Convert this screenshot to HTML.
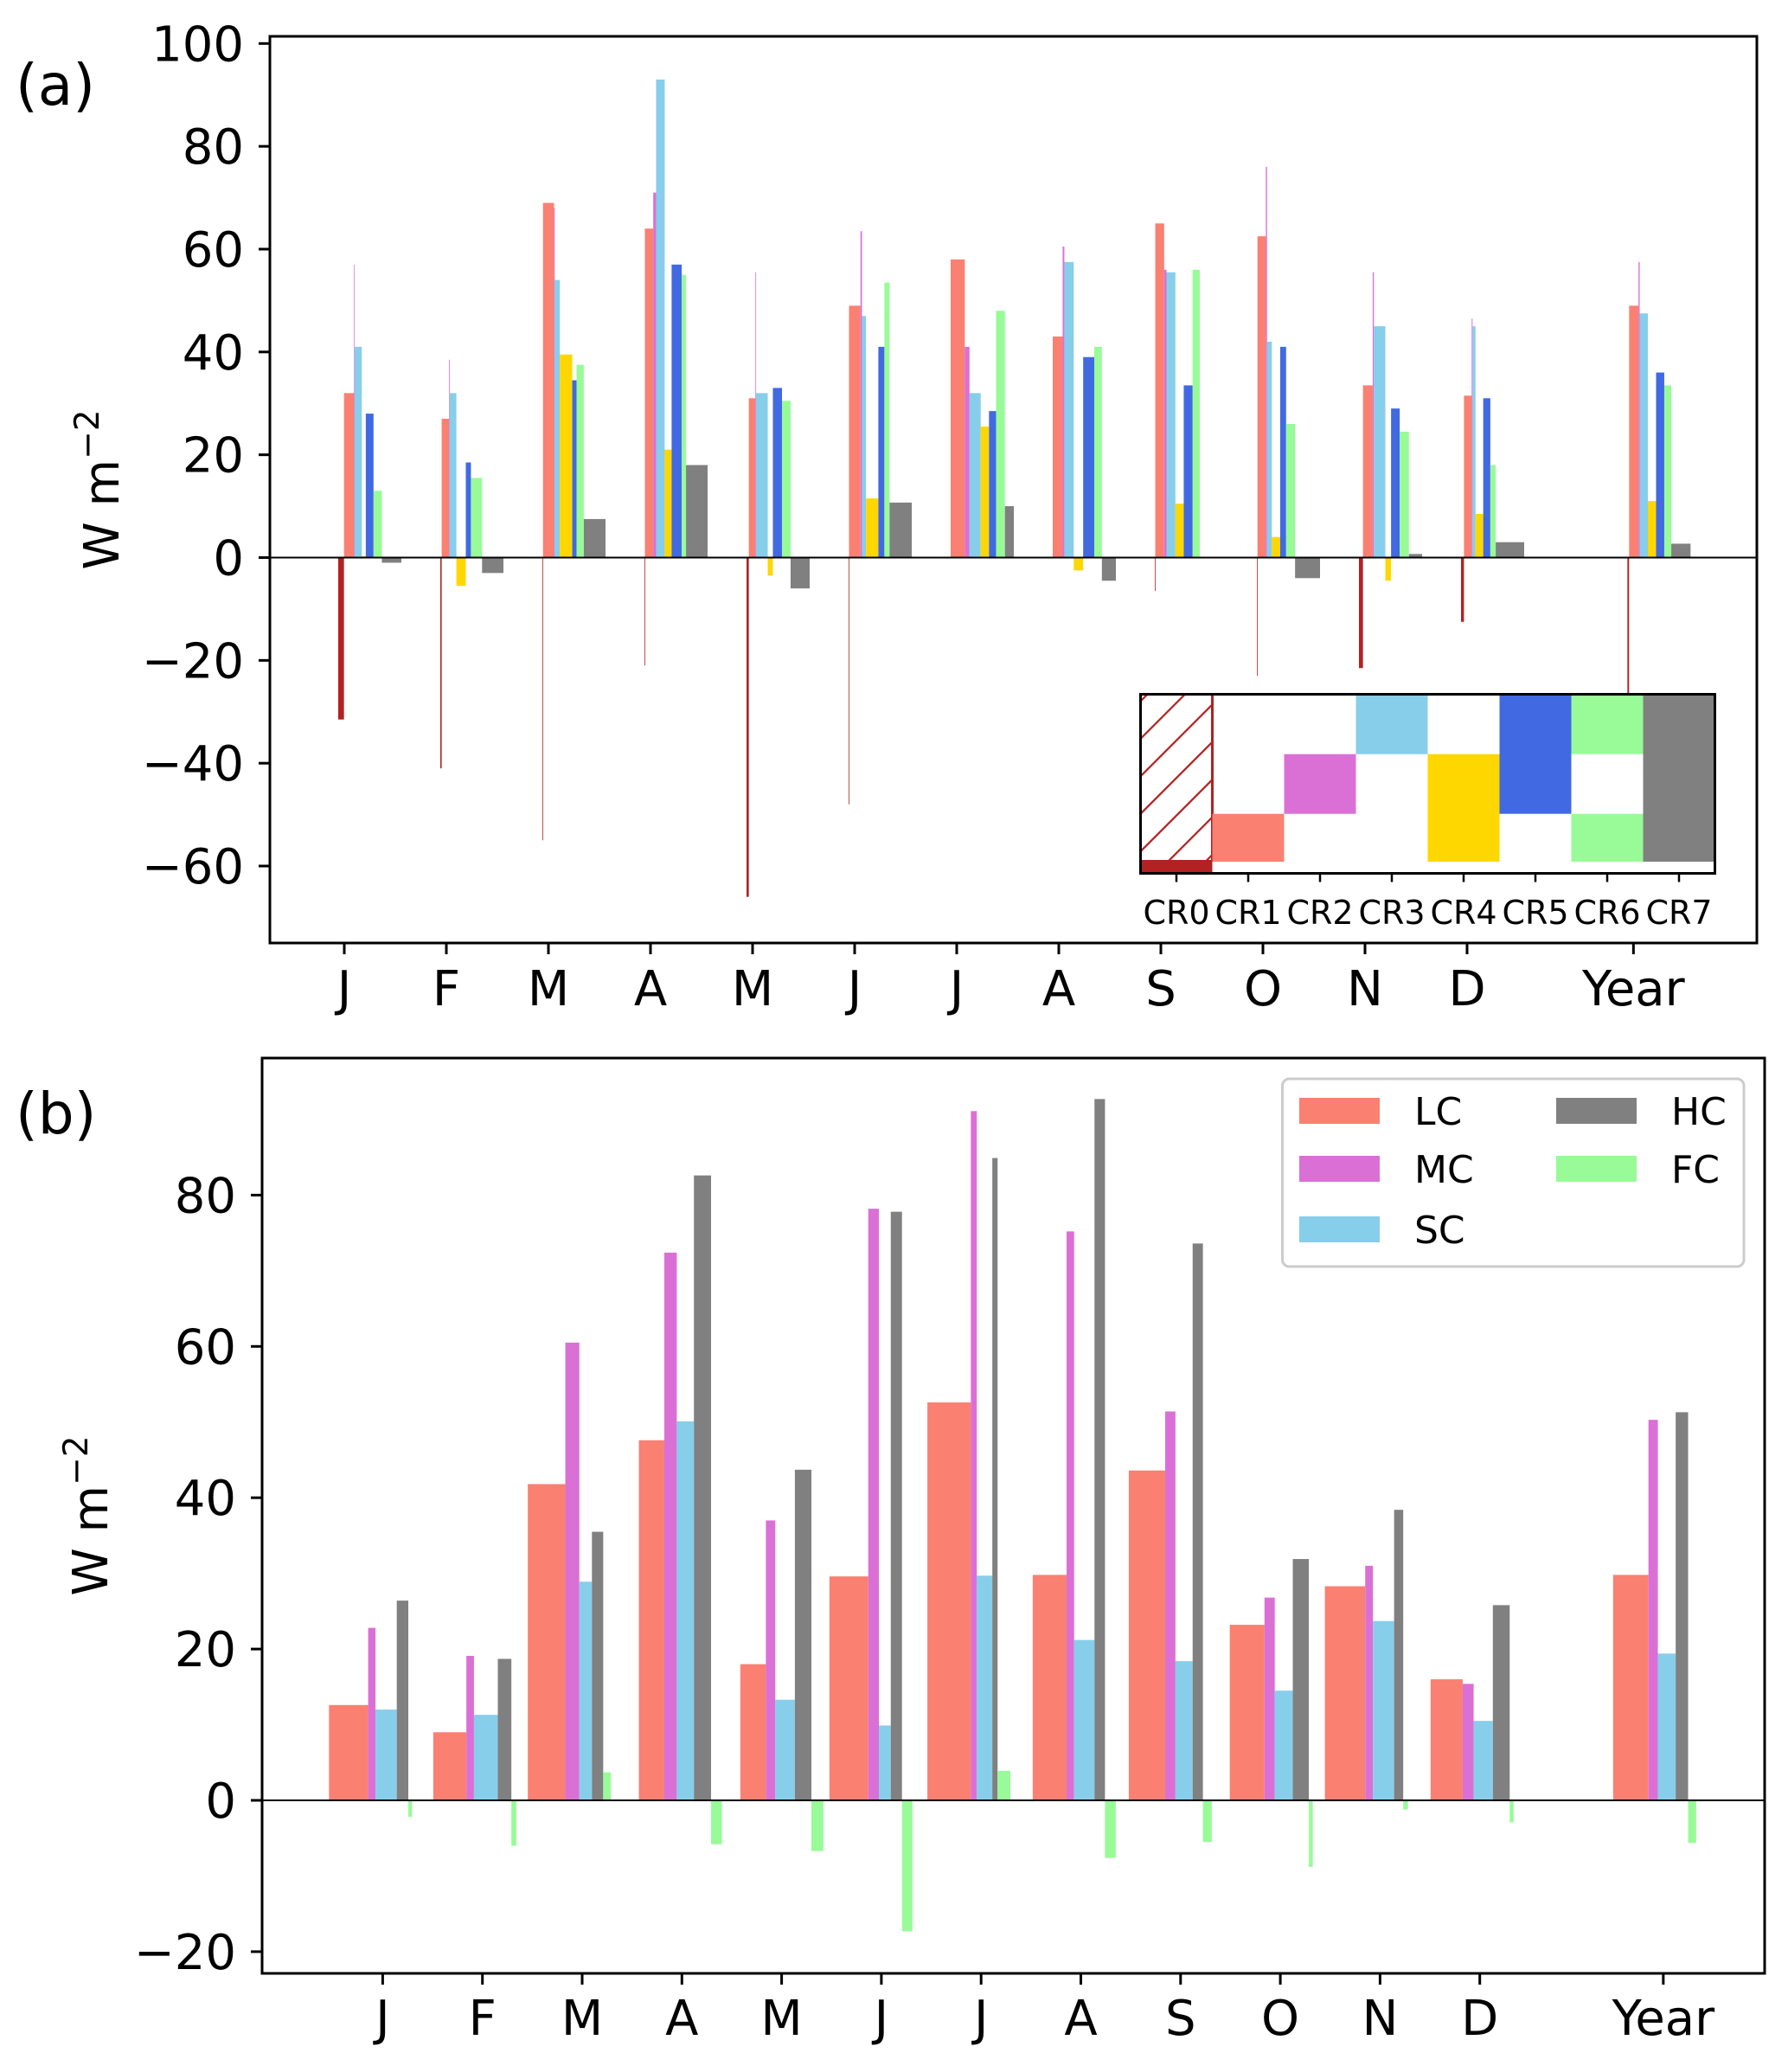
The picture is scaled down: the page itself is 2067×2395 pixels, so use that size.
<!DOCTYPE html>
<html><head><meta charset="utf-8"><style>
html,body{margin:0;padding:0;background:#fff;}
svg{display:block;font-family:"DejaVu Sans","Liberation Sans",sans-serif;}
</style></head><body>
<svg id="chart" width="2067" height="2395" viewBox="0 0 2067 2395" xmlns="http://www.w3.org/2000/svg">
<defs>
<pattern id="hatch" patternUnits="userSpaceOnUse" width="30.7" height="30.7" patternTransform="rotate(45)">
<line x1="0" y1="0" x2="0" y2="30.7" stroke="#b22222" stroke-width="4.5"/>
</pattern>
</defs>
<g id="panelA"></g>
<g id="panelB"></g>
</svg>
<script>
// ---- Panel (a) data ----
const monthsA = ['J','F','M','A','M','J','J','A','S','O','N','D','Year'];
const catPosA = [0,1,2,3,4,5,6,7,8,9,10,11,12.63];
const crNames = ['CR0','CR1','CR2','CR3','CR4','CR5','CR6','CR7'];
const crColors = ['#b22222','#fa8072','#da70d6','#87ceeb','#ffd700','#4169e1','#98fb98','#808080'];
const cr0Vals = [-31.5,-41,-55,-21,-66,-48,0,0,-6.5,-23,-21.5,-12.5,-27];
const cr1Vals = [32,27,69,64,31,49,58,43,65,62.5,33.5,31.5,49];
const cr2Vals = [57,38.5,68,71,55.5,63.5,41,60.5,56,76,55.5,46.5,57.5];
const cr3Vals = [41,32,54,93,32,47,32,57.5,55.5,42,45,45,47.5];
const cr4Vals = [0.3,-5.5,39.5,21,-3.5,11.5,25.5,-2.5,10.5,4,-4.5,8.5,11];
const cr5Vals = [28,18.5,34.5,57,33,41,28.5,39,33.5,41,29,31,36];
const cr6Vals = [13,15.5,37.5,55,30.5,53.5,48,41,56,26,24.5,18,33.5];
const cr7Vals = [-1,-3,7.5,18,-6,10.7,10,-4.5,0,-4,0.7,3,2.7];
const cr0Freq = [6.7,1.6,0.7,0.5,2.7,0.5,0,0,0.5,0.7,4.8,3.4,2];
const cr1Freq = [11.7,8.7,12.7,9.7,7.7,13.3,16.4,11.6,10.3,9.6,11.6,8.9,11];
const cr2Freq = [0.7,0.5,0.7,3.3,0.7,1.7,5.5,2,2.7,1.4,1.4,1,1.4];
const cr3Freq = [8.3,8,6,10,13.7,4.7,13,11,10.3,5.5,13.7,3.4,9.6];
const cr4Freq = [4.7,11,14.3,8,6,14.3,9.6,11,9.6,9.6,6.8,8.9,9.6];
const cr5Freq = [9,6,5,11.7,10.7,7,8.2,13,10.3,6.8,10.3,8.2,9.6];
const cr6Freq = [9.7,13,8.3,5,10,6,10.3,8.9,8.2,10.3,11,6.2,8.2];
const cr7Freq = [22.7,25,25,25,22.3,25.7,10.3,16.4,21,28.7,15.7,32.8,22.6];
const yTicksA = [100,80,60,40,20,0,-20,-40,-60];
const yTickLabelsA = ['100','80','60','40','20','0','\u221220','\u221240','\u221260'];

// ---- Panel (b) data ----
const monthsB = ['J','F','M','A','M','J','J','A','S','O','N','D','Year'];
const catPosB = [0,1,2,3,4,5,6,7,8,9,10,11,12.84];
const seriesB = ['LC','MC','SC','HC','FC'];
const colorsB = ['#fa8072','#da70d6','#87ceeb','#808080','#98fb98'];
const lcVals = [12.6,9.0,41.8,47.6,18,29.6,52.6,29.8,43.6,23.2,28.3,16,29.8];
const mcVals = [22.8,19.1,60.5,72.4,37,78.2,91.1,75.2,51.4,26.8,31,15.4,50.3];
const scVals = [12,11.3,28.9,50.1,13.3,9.9,29.7,21.2,18.4,14.5,23.7,10.5,19.4];
const hcVals = [26.4,18.7,35.5,82.6,43.7,77.8,84.9,92.7,73.6,31.9,38.4,25.8,51.3];
const fcVals = [-2.2,-6,3.7,-5.8,-6.7,-17.3,3.9,-7.6,-5.5,-8.8,-1.2,-2.9,-5.6];
const lcFreq = [45.1,38.3,43.2,29.5,29.5,45.1,50.5,39.4,42.1,40.2,46.5,37.6,40.7];
const mcFreq = [8.5,8.8,16.1,14.5,10.9,12.3,6.9,8.8,11.9,11.9,8.9,12.8,10.8];
const scFreq = [24.5,27.6,14.5,19.9,22.6,13.8,18,23.7,19.9,20.9,24.4,22.5,20.5];
const hcFreq = [13.3,15.7,13,19.9,19.1,13,6.1,12.2,11.9,18.6,10.5,19.7,14.3];
const fcFreq = [4.3,5.7,8.8,12.6,13.8,12.2,14.9,12.6,10.3,4.6,5.4,4.6,9.3];
const yTicksB = [80,60,40,20,0,-20];
const yTickLabelsB = ['80','60','40','20','0','\u221220'];

const NS = 'http://www.w3.org/2000/svg';
function mk(parent, tag, attrs, text){
  const e = document.createElementNS(NS, tag);
  for (const k in attrs) e.setAttribute(k, attrs[k]);
  if (text !== undefined) e.textContent = text;
  parent.appendChild(e);
  return e;
}

// ===== Panel A =====
(function(){
  const g = document.getElementById('panelA');
  const L=312, R=2031, T=42, B=1090;
  const y0=644.5, ppu=5.942;
  const yA = v => y0 - v*ppu;
  const xA = p => 398 + 118*p;
  const groupW = 73;
  const vals = [cr0Vals,cr1Vals,cr2Vals,cr3Vals,cr4Vals,cr5Vals,cr6Vals,cr7Vals];
  const freqs = [cr0Freq,cr1Freq,cr2Freq,cr3Freq,cr4Freq,cr5Freq,cr6Freq,cr7Freq];
  for (let i=0;i<monthsA.length;i++){
    let sum=0; for (let k=0;k<8;k++) sum+=freqs[k][i];
    let x = xA(catPosA[i]) - 7;
    for (let k=0;k<8;k++){
      const w = freqs[k][i]/sum*groupW;
      const v = vals[k][i];
      if (w>0){
        const r = mk(g,'rect',{x:x, y:Math.min(yA(v),y0), width:Math.max(w,0.8), height:Math.abs(yA(v)-y0), fill:crColors[k]});
        
        
      }
      x += w;
    }
  }
  const zl = mk(g,'line',{x1:L,x2:R,y1:y0,y2:y0,stroke:'#000','stroke-width':2});
  
  
  for (let i=0;i<yTicksA.length;i++){
    const yy=yA(yTicksA[i]);
    const t = mk(g,'line',{x1:L-13,x2:L,y1:yy,y2:yy,stroke:'#000','stroke-width':3});
    
    
    const tx = mk(g,'text',{x:282,y:yy+20,'text-anchor':'end','font-size':56},yTickLabelsA[i]);
    
    
  }
  for (let i=0;i<monthsA.length;i++){
    const xx=xA(catPosA[i]);
    const t = mk(g,'line',{x1:xx,x2:xx,y1:B,y2:B+13,stroke:'#000','stroke-width':3});
    
    
    const tx = mk(g,'text',{x:xx,y:1162,'text-anchor':'middle','font-size':56},monthsA[i]);
    
    
  }
  const IL=1318.5, IT=802.5, IB=1009.5, cw=83;
  const ins = mk(g,'g',{});
  
  
  mk(ins,'rect',{x:IL,y:IT,width:cw*8,height:IB-IT,fill:'#fff'});
  const r1=871.7, r2=940.7, r3=996;
  mk(ins,'rect',{x:IL,y:IT,width:cw,height:r3-IT,fill:'url(#hatch)'});
  mk(ins,'line',{x1:IL+cw,x2:IL+cw,y1:IT,y2:r3,stroke:'#b22222','stroke-width':3});
  mk(ins,'rect',{x:IL,y:r3-2,width:cw,height:IB-r3+2,fill:crColors[0]});
  mk(ins,'rect',{x:IL+cw,y:r2,width:cw,height:r3-r2,fill:crColors[1]});
  mk(ins,'rect',{x:IL+2*cw,y:r1,width:cw,height:r2-r1,fill:crColors[2]});
  mk(ins,'rect',{x:IL+3*cw,y:IT,width:cw,height:r1-IT,fill:crColors[3]});
  mk(ins,'rect',{x:IL+4*cw,y:r1,width:cw,height:r3-r1,fill:crColors[4]});
  mk(ins,'rect',{x:IL+5*cw,y:IT,width:cw,height:r2-IT,fill:crColors[5]});
  mk(ins,'rect',{x:IL+6*cw,y:IT,width:cw,height:r1-IT,fill:crColors[6]});
  mk(ins,'rect',{x:IL+6*cw,y:r2,width:cw,height:r3-r2,fill:crColors[6]});
  mk(ins,'rect',{x:IL+7*cw,y:IT,width:cw,height:r3-IT,fill:crColors[7]});
  mk(ins,'rect',{x:IL,y:IT,width:cw*8,height:IB-IT,fill:'none',stroke:'#000','stroke-width':3});
  for (let k=0;k<8;k++){
    const cx = IL+cw*(k+0.5);
    mk(ins,'line',{x1:cx,x2:cx,y1:IB,y2:IB+10,stroke:'#000','stroke-width':2.5});
    const tx = mk(ins,'text',{x:cx,y:1068,'text-anchor':'middle','font-size':38},crNames[k]);
    
    
  }
  const fr = mk(g,'rect',{x:L,y:T,width:R-L,height:B-T,fill:'none',stroke:'#000','stroke-width':3});
  
  
  const yl = mk(g,'text',{transform:'translate(137,566) rotate(-90)','text-anchor':'middle','font-size':56});
  
  
  yl.appendChild(document.createTextNode('W m'));
  mk(yl,'tspan',{dy:-23,'font-size':39},'\u22122');
  const pl = mk(g,'text',{x:18,y:121,'font-size':66},'(a)');
  
  
})();

// ===== Panel B =====
(function(){
  const g = document.getElementById('panelB');
  const L=303, R=2040, T=1223, B=2281;
  const y0=2081, ppu=8.745;
  const yB = v => y0 - v*ppu;
  const xB = p => 442.4 + 115.3*p;
  const groupW = 96;
  const vals=[lcVals,mcVals,scVals,hcVals,fcVals];
  const freqs=[lcFreq,mcFreq,scFreq,hcFreq,fcFreq];
  for (let i=0;i<monthsB.length;i++){
    let sum=0; for (let k=0;k<5;k++) sum+=freqs[k][i];
    const s = groupW/sum;
    let x = xB(catPosB[i]) + 4 - (freqs[0][i]+freqs[1][i]+0.5*freqs[2][i])*s;
    for (let k=0;k<5;k++){
      const w=freqs[k][i]*s, v=vals[k][i];
      const r = mk(g,'rect',{x:x,y:Math.min(yB(v),y0),width:w,height:Math.abs(yB(v)-y0),fill:colorsB[k]});
      
      
      x+=w;
    }
  }
  const zl = mk(g,'line',{x1:L,x2:R,y1:y0,y2:y0,stroke:'#000','stroke-width':2});
  
  
  for (let i=0;i<yTicksB.length;i++){
    const yy=yB(yTicksB[i]);
    const t = mk(g,'line',{x1:L-13,x2:L,y1:yy,y2:yy,stroke:'#000','stroke-width':3});
    
    
    const tx = mk(g,'text',{x:273,y:yy+20,'text-anchor':'end','font-size':56},yTickLabelsB[i]);
    
    
  }
  for (let i=0;i<monthsB.length;i++){
    const xx=xB(catPosB[i]);
    const t = mk(g,'line',{x1:xx,x2:xx,y1:B,y2:B+13,stroke:'#000','stroke-width':3});
    
    
    const tx = mk(g,'text',{x:xx,y:2352,'text-anchor':'middle','font-size':56},monthsB[i]);
    
    
  }
  const lg = mk(g,'g',{});
  
  
  mk(lg,'rect',{x:1482.5,y:1247,width:533.5,height:217,rx:8,fill:'#fff','fill-opacity':0.8,stroke:'#cccccc','stroke-width':3});
  const legPos = [[0,0],[0,1],[0,2],[1,0],[1,1]];
  const colX = [1502,1799], labX=[1635,1932], rowY=[1284,1351,1421];
  for (let k=0;k<5;k++){
    const [c,r]=legPos[k];
    const p = mk(lg,'rect',{x:colX[c],y:rowY[r]-15,width:93,height:30,fill:colorsB[k]});
    
    
    const tx = mk(lg,'text',{x:labX[c],y:rowY[r]+16,'font-size':44},seriesB[k]);
    
    
  }
  const fr = mk(g,'rect',{x:L,y:T,width:R-L,height:B-T,fill:'none',stroke:'#000','stroke-width':3});
  
  
  const yl = mk(g,'text',{transform:'translate(124,1752) rotate(-90)','text-anchor':'middle','font-size':56});
  
  
  yl.appendChild(document.createTextNode('W m'));
  mk(yl,'tspan',{dy:-23,'font-size':39},'\u22122');
  const pl = mk(g,'text',{x:18,y:1310,'font-size':66},'(b)');
  
  
})();
</script>
</body></html>
